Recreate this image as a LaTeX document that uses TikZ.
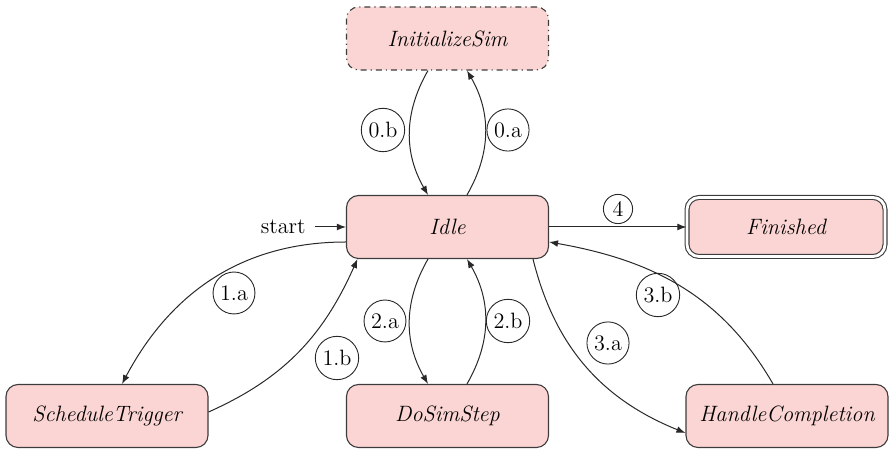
\documentclass[tikz,border=0pt]{standalone}
\usetikzlibrary{arrows.meta,calc}
\definecolor{statefill}{RGB}{250,213,211}
\definecolor{stateline}{RGB}{60,60,60}
\definecolor{edgeline}{RGB}{40,40,40}
\begin{document}
\begin{tikzpicture}[x=0.5pt,y=0.5pt,
  every node/.style={font=\fontsize{11.1}{13}\selectfont},
  state/.style={draw=stateline, fill=statefill, rounded corners=6pt,
    minimum width=101pt, minimum height=31.5pt, inner sep=0pt, line width=0.55pt,
    font=\fontsize{11.1}{13}\selectfont\itshape},
  tag/.style={draw=edgeline, circle, inner sep=1.9pt, line width=0.45pt},
  trans/.style={draw=edgeline, line width=0.5pt, -{Latex[length=4.5pt,width=3.4pt]}}]
\useasboundingbox (0,0) rectangle (891,449);

% states
\node[state, dash dot] (init) at (447.5,410.5) {InitializeSim};
\node[state] (idle) at (447.5,222) {Idle};
\node[state, double=white, double distance=1.4pt, minimum width=99pt, minimum height=29.5pt] (fin) at (786,222) {Finished};
\node[state] (sched) at (107,33) {ScheduleTrigger};
\node[state] (step) at (447.5,33) {DoSimStep};
\node[state] (handle) at (787,33) {HandleCompletion};

% initial marker
\node[anchor=east, inner sep=0pt] (startlbl) at (306,222) {start};
\draw[trans] ($(startlbl.east)+(9,0)$) -- (idle.west);

% transitions
\draw[trans] ($(init.south)+(-19.5,0)$) to[bend right=30] ($(idle.north)+(-19.5,0)$);
\draw[trans] ($(idle.north)+(19.5,0)$) to[bend right=30] ($(init.south)+(19.5,0)$);
\draw[trans] ($(idle.west)+(0,-15)$) to[out=180,in=62] ($(sched.north)+(15,0)$);
\draw[trans] ($(sched.east)+(0,4)$) to[out=24,in=246] ($(idle.south west)+(11.5,0)$);
\draw[trans] ($(idle.south)+(-19.5,0)$) to[bend right=30] ($(step.north)+(-19.5,0)$);
\draw[trans] ($(step.north)+(19.5,0)$) to[bend right=30] ($(idle.south)+(19.5,0)$);
\draw[trans] ($(idle.south)+(85.5,0)$) to[out=-76,in=158] ($(handle.west)+(0,-17)$);
\draw[trans] ($(handle.north)+(-14,0)$) to[out=120,in=-10] ($(idle.east)+(0,-15)$);
\draw[trans] (idle.east) -- (fin.west);

% transition labels
\node[tag] (t0b) at (383,319) {0.b};
\node[tag] (t0a) at (508,319) {0.a};
\node[tag] (t1a) at (234,156) {1.a};
\node[tag] (t1b) at (337,91) {1.b};
\node[tag] (t2a) at (385,128) {2.a};
\node[tag] (t2b) at (508,128) {2.b};
\node[tag] (t3a) at (608,106) {3.a};
\node[tag] (t3b) at (658,154) {3.b};
\node[tag] (t4) at (618,240) {4};
\end{tikzpicture}
\end{document}
